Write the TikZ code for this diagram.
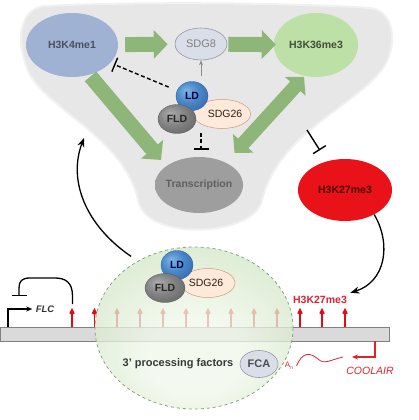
\documentclass[tikz,border=0pt]{standalone}
\usepackage{fontspec}
\setmainfont{Liberation Sans}
\usetikzlibrary{shapes.geometric,arrows.meta,calc}
\newcommand\fsz[1]{\fontsize{#1}{#1}\selectfont}
\definecolor{blobgray}{RGB}{231,231,231}
\definecolor{fatgreen}{RGB}{142,182,120}
\definecolor{k4c}{RGB}{160,178,212}
\definecolor{k4e}{RGB}{196,205,222}
\definecolor{k4t}{RGB}{75,80,95}
\definecolor{k36c}{RGB}{188,224,165}
\definecolor{k36e}{RGB}{162,206,132}
\definecolor{k36t}{RGB}{65,78,58}
\definecolor{trc}{RGB}{158,158,158}
\definecolor{tre}{RGB}{188,188,188}
\definecolor{trt}{RGB}{95,95,95}
\definecolor{redc}{RGB}{232,18,24}
\definecolor{rede}{RGB}{250,170,170}
\definecolor{ldhi}{RGB}{125,180,230}
\definecolor{ldmid}{RGB}{72,135,200}
\definecolor{lddk}{RGB}{40,92,160}
\definecolor{fldhi}{RGB}{172,172,172}
\definecolor{fldmid}{RGB}{130,130,130}
\definecolor{flddk}{RGB}{88,88,88}
\definecolor{peachc}{RGB}{253,234,218}
\definecolor{peache}{RGB}{245,190,158}
\definecolor{peachd}{RGB}{215,150,120}
\definecolor{gcc}{RGB}{240,247,235}
\definecolor{gce}{RGB}{180,214,160}
\definecolor{gcd}{RGB}{140,160,130}
\definecolor{sdgf}{RGB}{218,222,232}
\definecolor{sdgd}{RGB}{150,152,162}
\definecolor{dnagray}{RGB}{218,218,218}
\definecolor{pinred}{RGB}{228,10,20}
\definecolor{labred}{RGB}{222,35,45}
\pgfdeclareradialshading{k4sh}{\pgfpointorigin}{color(0bp)=(k4c); color(28bp)=(k4c); color(50bp)=(k4e)}
\pgfdeclareradialshading{k36sh}{\pgfpointorigin}{color(0bp)=(k36c); color(25bp)=(k36c); color(50bp)=(k36e)}
\pgfdeclareradialshading{trsh}{\pgfpointorigin}{color(0bp)=(trc); color(28bp)=(trc); color(50bp)=(tre)}
\pgfdeclareradialshading{redsh}{\pgfpointorigin}{color(0bp)=(redc); color(36bp)=(redc); color(50bp)=(rede)}
\pgfdeclareradialshading{ldsh}{\pgfpoint{-10bp}{10bp}}{color(0bp)=(ldhi); color(18bp)=(ldmid); color(42bp)=(lddk); color(50bp)=(lddk)}
\pgfdeclareradialshading{fldsh}{\pgfpoint{-10bp}{10bp}}{color(0bp)=(fldhi); color(18bp)=(fldmid); color(42bp)=(flddk); color(50bp)=(flddk)}
\pgfdeclareradialshading{peachsh}{\pgfpointorigin}{color(0bp)=(peachc); color(25bp)=(peachc); color(50bp)=(peache)}
\pgfdeclareradialshading{gcsh}{\pgfpoint{0bp}{-12bp}}{color(0bp)=(gcc); color(12bp)=(gcc); color(50bp)=(gce)}
\begin{document}
\begin{tikzpicture}[x=1pt,y=-1pt,
  ell/.style={ellipse, inner sep=0pt, shade},
  lab/.style={font=\fsz{10.5}\bfseries},
  fat/.style={draw=fatgreen, line width=15pt, -{Triangle[width=28pt,length=14pt]}},
  fatd/.style={draw=fatgreen, line width=14pt, {Triangle[width=27pt,length=13pt]}-{Triangle[width=27pt,length=13pt]}},
  tee/.style={line width=1.4pt, -{Bar[width=15pt]}},
  dtee/.style={tee, dash pattern=on 4pt off 2.5pt},
  curv/.style={line width=1.3pt, -{Stealth[length=9pt,width=7pt]}},
  pin/.style={draw=pinred, line width=1.5pt, -{Kite[length=7pt,width=5.5pt]}},
  ballLD/.style={ell, shading=ldsh, draw=lddk, line width=0.3pt, minimum width=32, minimum height=29, lab, text=black!75!blue},
  ballFLD/.style={ell, shading=fldsh, draw=flddk, line width=0.3pt, minimum width=38, minimum height=29, lab, text=black!85},
  peach/.style={ell, shading=peachsh, draw=peachd, line width=0.5pt, minimum width=52, minimum height=29, font=\fsz{10.5}, text=black!75!brown},
]
\useasboundingbox (0,0) rectangle (418,420);
% background blob
\path[fill=blobgray, draw=blobgray!60!white, line width=2pt]
 (45,6) .. controls (120,2) and (280,2) .. (370,8)
 .. controls (395,10) and (397,45) .. (385,65)
 .. controls (360,105) and (280,130) .. (262,200)
 .. controls (255,237) and (145,242) .. (138,200)
 .. controls (125,140) and (50,110) .. (30,75)
 .. controls (15,45) and (18,8) .. (45,6) -- cycle;
% top nodes
\node[ell, shading=k4sh, minimum width=92, minimum height=64, lab, text=k4t] (k4) at (72,45) {\makebox[0pt]{H3K4me1}};
\node[ellipse, inner sep=0pt, draw=sdgd, fill=sdgf, line width=0.6pt, minimum width=52, minimum height=32, font=\fsz{11}, text=black!50] (sdg8) at (201,44) {SDG8};
\node[ell, shading=k36sh, minimum width=84, minimum height=64, lab, text=k36t] (k36) at (316,45) {\makebox[0pt]{H3K36me3}};
\node[ell, shading=trsh, minimum width=88, minimum height=56, lab, text=trt] (tr) at (199,185) {\makebox[0pt]{Transcription}};
\node[ell, shading=redsh, minimum width=94, minimum height=62, lab, text=black!70!red] (k27) at (345,190) {\makebox[0pt]{H3K27me3}};
% complex top
\node[peach] (sdg26) at (222,114) {\hspace*{6pt}SDG26};
\node[ballLD] (ld) at (192,96) {LD};
\node[ballFLD] (fld) at (177,119) {FLD};
% fat arrows
\draw[fat, shorten <=7pt, shorten >=7pt] (k4) -- (sdg8);
\draw[fat, shorten <=1pt, shorten >=-2pt] (sdg8) -- (k36);
\draw[fat, shorten <=2pt, shorten >=8pt] (k4.-60) -- (tr.150);
\draw[fatd, shorten <=1pt, shorten >=13pt] (k36.-110) -- (tr.40);
% thin connectors
\draw[draw=black!45, line width=0.8pt, -{Stealth[length=5pt,width=4pt]}, shorten <=5pt] (sdg8.south |- ld.north) -- (sdg8.south);
\draw[dtee, shorten <=9pt, shorten >=4pt] (ld.160) -- (k4.-25);
\draw[dtee, shorten <=4pt, shorten >=7pt] (sdg8.south |- sdg26.south) -- (sdg8.south |- tr.north);
\coordinate (teeS) at (307,130);
\draw[tee, shorten >=13pt] (teeS) -- (k27);
% bottom part
\node[draw=black!50, fill=dnagray, line width=0.6pt, minimum width=389, minimum height=14, inner sep=0, anchor=north west] (dna) at (0,327) {};
\foreach \x in {72,94.5,117,140,163,186,208,231,254,277,300,322,345}
  \draw[pin] (\x,327) -- (\x,308);
\node[font=\fsz{10.5}\bfseries, text=labred] (k27lab) at (320,300) {H3K27me3};
\node[ellipse, inner sep=0, shade, shading=gcsh, fill opacity=0.78, draw=gcd, dashed, line width=0.8pt, minimum width=198, minimum height=162] (gc) at (194,328) {};
\node[peach, minimum width=54] (sdg26b) at (208,283) {\hspace*{-4pt}SDG26};
\node[ballLD] (ldb) at (177,265) {LD};
\node[ballFLD, minimum width=40] (fldb) at (165,288) {FLD};
\node[font=\fsz{11}\bfseries, text=black!78] (proc) at (178,364) {3' processing factors};
\node[ellipse, inner sep=0, draw=sdgd, fill=sdgf, line width=0.6pt, minimum width=38, minimum height=27, font=\fsz{11}\bfseries, text=black!70] (fca) at (259,364) {\makebox[0pt]{FCA}};
% FLC promoter
\coordinate (tss) at (8,327);
\node[font=\fsz{9.5}\bfseries\itshape, text=black!80] (flc) at (45,309) {FLC};
\draw[line width=1.1pt, -{Stealth[length=6pt,width=5pt]}] (tss) |- (flc.west);
\coordinate (pinA) at (72.5,304);
\draw[line width=1.3pt, -{Bar[width=15pt]}] (pinA) -- (72.5,296) .. controls (72.5,282) and (65,278) .. (55,278) -- (30,278) .. controls (22,278) and (19,281) .. (19,288) -- (19,296);
% COOLAIR
\node[font=\fsz{8}, text=labred] (an) at (289,366) {A\raisebox{-2pt}{\fsz{5}n}};
\coordinate (cst) at (375,341);
\coordinate (cend) at (352,357);
\draw[labred, line width=1.3pt, -{Stealth[length=6pt,width=5pt]}] (cst) |- (cend);
\coordinate (wv) at (343,357);
\draw[labred, line width=0.8pt] (an.east) .. controls (302,352) and (310,352) .. (318,359) .. controls (324,365) and (330,360) .. (wv);
\node[font=\fsz{10.5}\itshape, text=labred] (coolair) at (370,371) {COOLAIR};
% curved arrows
\coordinate (blobin) at (84,138);
\draw[curv, shorten <=8pt] (gc.130) .. controls (85,225) and (68,180) .. (blobin);
\draw[curv] (k27.-40) .. controls (392,245) and (385,282) .. (k27lab.north east);
\end{tikzpicture}
\end{document}
